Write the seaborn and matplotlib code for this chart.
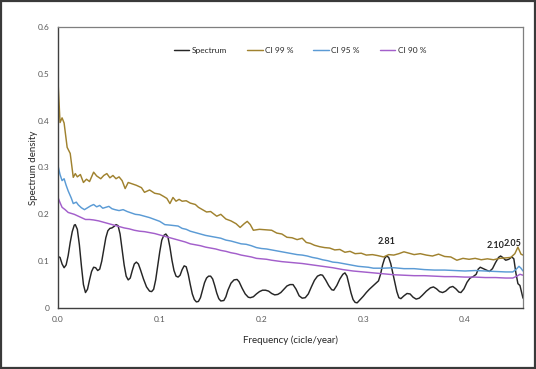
import matplotlib
matplotlib.use("Agg")
import matplotlib.pyplot as plt
import seaborn as sns
import numpy as np
from matplotlib.patches import Rectangle

# ---------------- data ----------------
spec_x = [0.000, 0.002, 0.004, 0.006, 0.008, 0.010, 0.012, 0.014, 0.016, 0.017, 0.019, 0.021, 0.023, 0.025, 0.027,
          0.029, 0.031, 0.033, 0.035, 0.037, 0.039, 0.041, 0.043, 0.045, 0.047, 0.049, 0.051, 0.053, 0.055, 0.057,
          0.059, 0.061, 0.063, 0.065, 0.067, 0.069, 0.071, 0.073, 0.075, 0.077, 0.079, 0.081, 0.084, 0.087, 0.090,
          0.092, 0.094, 0.096, 0.098, 0.100, 0.102, 0.104, 0.106, 0.108, 0.110, 0.112, 0.114, 0.116, 0.118, 0.120,
          0.122, 0.124, 0.126, 0.128, 0.130, 0.132, 0.134, 0.136, 0.138, 0.140, 0.142, 0.144, 0.146, 0.148, 0.150,
          0.152, 0.154, 0.156, 0.158, 0.160, 0.163, 0.165, 0.167, 0.170, 0.173, 0.176, 0.178, 0.181, 0.184, 0.187,
          0.189, 0.192, 0.195, 0.198, 0.201, 0.204, 0.207, 0.210, 0.213, 0.216, 0.219, 0.222, 0.225, 0.228, 0.231,
          0.234, 0.237, 0.240, 0.243, 0.246, 0.249, 0.252, 0.255, 0.258, 0.260, 0.263, 0.266, 0.269, 0.271, 0.274,
          0.277, 0.280, 0.282, 0.284, 0.286, 0.288, 0.290, 0.292, 0.294, 0.297, 0.300, 0.303, 0.306, 0.309, 0.312,
          0.315, 0.317, 0.319, 0.321, 0.323, 0.325, 0.327, 0.329, 0.331, 0.333, 0.335, 0.337, 0.340, 0.343, 0.346,
          0.349, 0.352, 0.355, 0.358, 0.362, 0.366, 0.369, 0.372, 0.375, 0.378, 0.381, 0.385, 0.388, 0.391, 0.394,
          0.396, 0.399, 0.402, 0.405, 0.408, 0.411, 0.413, 0.415, 0.418, 0.421, 0.424, 0.427, 0.430, 0.433, 0.435,
          0.437, 0.440, 0.443, 0.446, 0.448, 0.450, 0.452, 0.454, 0.456, 0.457]
spec_y = [0.110, 0.108, 0.094, 0.086, 0.092, 0.112, 0.140, 0.163, 0.177, 0.178, 0.168, 0.135, 0.090, 0.050, 0.033,
          0.040, 0.060, 0.078, 0.087, 0.086, 0.080, 0.083, 0.100, 0.125, 0.150, 0.165, 0.170, 0.171, 0.174, 0.178,
          0.176, 0.158, 0.125, 0.092, 0.068, 0.060, 0.064, 0.080, 0.094, 0.098, 0.094, 0.082, 0.062, 0.045, 0.036,
          0.035, 0.040, 0.060, 0.090, 0.120, 0.145, 0.155, 0.158, 0.152, 0.130, 0.102, 0.080, 0.068, 0.066, 0.070,
          0.082, 0.090, 0.088, 0.072, 0.050, 0.030, 0.018, 0.013, 0.014, 0.022, 0.038, 0.054, 0.064, 0.068, 0.068,
          0.062, 0.048, 0.032, 0.020, 0.015, 0.016, 0.024, 0.038, 0.053, 0.060, 0.061, 0.056, 0.042, 0.030, 0.023,
          0.022, 0.024, 0.030, 0.035, 0.038, 0.038, 0.036, 0.031, 0.028, 0.029, 0.033, 0.040, 0.047, 0.050, 0.050,
          0.040, 0.026, 0.021, 0.022, 0.030, 0.045, 0.059, 0.068, 0.071, 0.070, 0.060, 0.048, 0.039, 0.038, 0.048,
          0.062, 0.072, 0.075, 0.068, 0.050, 0.032, 0.018, 0.012, 0.011, 0.018, 0.025, 0.033, 0.040, 0.046, 0.052,
          0.058, 0.072, 0.092, 0.106, 0.111, 0.108, 0.095, 0.075, 0.055, 0.035, 0.022, 0.020, 0.026, 0.031, 0.030,
          0.023, 0.019, 0.021, 0.027, 0.036, 0.043, 0.045, 0.041, 0.035, 0.033, 0.036, 0.044, 0.046, 0.041, 0.034,
          0.033, 0.041, 0.055, 0.064, 0.067, 0.072, 0.083, 0.087, 0.084, 0.081, 0.078, 0.084, 0.097, 0.108, 0.111,
          0.108, 0.102, 0.104, 0.109, 0.105, 0.075, 0.052, 0.048, 0.030, 0.021]

ci99_x = [0.000, 0.002, 0.004, 0.006, 0.009, 0.012, 0.015, 0.017, 0.019, 0.022, 0.025, 0.028, 0.031, 0.035, 0.038,
          0.042, 0.045, 0.048, 0.051, 0.054, 0.057, 0.060, 0.063, 0.066, 0.069, 0.073, 0.077, 0.082, 0.085, 0.090,
          0.095, 0.100, 0.104, 0.107, 0.110, 0.113, 0.116, 0.119, 0.122, 0.126, 0.130, 0.135, 0.138, 0.142, 0.146,
          0.150, 0.156, 0.160, 0.165, 0.170, 0.175, 0.179, 0.183, 0.186, 0.189, 0.192, 0.198, 0.204, 0.210, 0.215,
          0.220, 0.225, 0.230, 0.235, 0.240, 0.244, 0.248, 0.252, 0.257, 0.262, 0.267, 0.272, 0.277, 0.282, 0.287,
          0.292, 0.298, 0.303, 0.309, 0.314, 0.320, 0.325, 0.330, 0.335, 0.340, 0.345, 0.350, 0.356, 0.362, 0.368,
          0.374, 0.380, 0.386, 0.392, 0.398, 0.404, 0.410, 0.416, 0.422, 0.428, 0.434, 0.440, 0.445, 0.449, 0.452,
          0.455, 0.457]
ci99_y = [0.485, 0.396, 0.406, 0.395, 0.343, 0.330, 0.279, 0.287, 0.280, 0.285, 0.268, 0.275, 0.270, 0.290, 0.282,
          0.276, 0.283, 0.287, 0.278, 0.283, 0.276, 0.280, 0.272, 0.255, 0.268, 0.265, 0.262, 0.257, 0.247, 0.252,
          0.245, 0.243, 0.238, 0.234, 0.223, 0.236, 0.228, 0.232, 0.228, 0.229, 0.224, 0.221, 0.215, 0.210, 0.205,
          0.206, 0.196, 0.200, 0.190, 0.186, 0.180, 0.172, 0.180, 0.185, 0.178, 0.166, 0.168, 0.167, 0.166, 0.160,
          0.158, 0.151, 0.150, 0.146, 0.149, 0.140, 0.138, 0.134, 0.131, 0.129, 0.128, 0.124, 0.125, 0.119, 0.121,
          0.116, 0.117, 0.113, 0.114, 0.112, 0.109, 0.114, 0.113, 0.116, 0.120, 0.117, 0.114, 0.116, 0.113, 0.111,
          0.115, 0.110, 0.109, 0.102, 0.106, 0.104, 0.106, 0.103, 0.105, 0.103, 0.106, 0.107, 0.108, 0.116, 0.130,
          0.115, 0.113]

ci95_x = [0.000, 0.002, 0.004, 0.006, 0.008, 0.010, 0.013, 0.015, 0.018, 0.020, 0.023, 0.026, 0.029, 0.032, 0.035,
          0.038, 0.041, 0.044, 0.047, 0.050, 0.053, 0.056, 0.060, 0.064, 0.068, 0.072, 0.076, 0.080, 0.085, 0.090,
          0.095, 0.100, 0.105, 0.110, 0.114, 0.118, 0.122, 0.126, 0.130, 0.135, 0.140, 0.145, 0.150, 0.155, 0.160,
          0.165, 0.170, 0.175, 0.180, 0.185, 0.190, 0.195, 0.200, 0.205, 0.210, 0.215, 0.220, 0.225, 0.230, 0.235,
          0.240, 0.245, 0.250, 0.255, 0.260, 0.265, 0.270, 0.275, 0.280, 0.285, 0.290, 0.295, 0.300, 0.305, 0.310,
          0.320, 0.330, 0.340, 0.350, 0.360, 0.370, 0.380, 0.390, 0.400, 0.410, 0.420, 0.430, 0.440, 0.447, 0.450,
          0.453, 0.455, 0.457]
ci95_y = [0.304, 0.285, 0.272, 0.276, 0.262, 0.250, 0.235, 0.223, 0.226, 0.220, 0.214, 0.210, 0.214, 0.218, 0.221,
          0.216, 0.219, 0.213, 0.215, 0.217, 0.212, 0.210, 0.208, 0.210, 0.206, 0.203, 0.200, 0.199, 0.196, 0.193,
          0.189, 0.185, 0.178, 0.177, 0.176, 0.175, 0.170, 0.168, 0.164, 0.161, 0.158, 0.155, 0.153, 0.151, 0.149,
          0.145, 0.143, 0.140, 0.137, 0.136, 0.133, 0.129, 0.127, 0.126, 0.124, 0.122, 0.120, 0.118, 0.116, 0.114,
          0.113, 0.111, 0.108, 0.106, 0.103, 0.101, 0.098, 0.097, 0.095, 0.093, 0.091, 0.089, 0.088, 0.087, 0.085,
          0.085, 0.086, 0.084, 0.084, 0.082, 0.081, 0.081, 0.080, 0.079, 0.080, 0.079, 0.078, 0.077, 0.077, 0.082,
          0.089, 0.085, 0.079]

ci90_x = [0.000, 0.002, 0.004, 0.007, 0.010, 0.013, 0.016, 0.020, 0.024, 0.027, 0.031, 0.035, 0.040, 0.045, 0.050,
          0.055, 0.060, 0.065, 0.070, 0.075, 0.080, 0.085, 0.090, 0.095, 0.100, 0.105, 0.110, 0.115, 0.120, 0.125,
          0.130, 0.135, 0.140, 0.145, 0.150, 0.155, 0.160, 0.165, 0.170, 0.175, 0.180, 0.185, 0.190, 0.195, 0.200,
          0.205, 0.210, 0.220, 0.230, 0.240, 0.250, 0.260, 0.270, 0.280, 0.290, 0.300, 0.310, 0.320, 0.330, 0.340,
          0.350, 0.360, 0.370, 0.380, 0.390, 0.400, 0.410, 0.420, 0.430, 0.440, 0.447, 0.451, 0.454, 0.457]
ci90_y = [0.236, 0.225, 0.215, 0.210, 0.204, 0.202, 0.200, 0.196, 0.192, 0.189, 0.189, 0.188, 0.186, 0.183, 0.180,
          0.177, 0.174, 0.171, 0.169, 0.166, 0.164, 0.163, 0.161, 0.159, 0.156, 0.153, 0.150, 0.147, 0.144, 0.141,
          0.137, 0.135, 0.133, 0.130, 0.128, 0.126, 0.123, 0.121, 0.118, 0.116, 0.113, 0.111, 0.109, 0.106, 0.105,
          0.104, 0.102, 0.099, 0.097, 0.095, 0.092, 0.089, 0.086, 0.082, 0.079, 0.077, 0.075, 0.073, 0.071, 0.070,
          0.069, 0.069, 0.068, 0.067, 0.067, 0.066, 0.066, 0.065, 0.065, 0.064, 0.064, 0.068, 0.072, 0.070]

series_names = ["Spectrum", "CI 99 %", "CI 95 %", "CI 90 %"]
series_colors = ["#262626", "#A0822F", "#5B9BD5", "#A35FCB"]

peak_labels = ["2.81", "2.10", "2.05"]
peak_x = [0.323, 0.435, 0.446]
peak_y = [0.111, 0.111, 0.109]

x_ticks = [0.0, 0.1, 0.2, 0.3, 0.4]
x_ticklabels = ["0.0", "0.1", "0.2", "0.3", "0.4"]
y_ticks = [0, 0.1, 0.2, 0.3, 0.4, 0.5, 0.6]
y_ticklabels = ["0", "0.1", "0.2", "0.3", "0.4", "0.5", "0.6"]

# ---------------- plot ----------------
sns.set_theme(style="white")
plt.rcParams["font.family"] = ["Lato", "DejaVu Sans"]

fig = plt.figure(figsize=(5.36, 3.69), dpi=100)
ax = fig.add_axes([58 / 536, 1 - 308 / 369, (523 - 58) / 536, (308 - 27) / 369])

xs = [spec_x, ci99_x, ci95_x, ci90_x]
ys = [spec_y, ci99_y, ci95_y, ci90_y]
for x, y, name, col in zip(xs, ys, series_names, series_colors):
    sns.lineplot(x=x, y=y, ax=ax, color=col, lw=1.05, label=name, sort=False, estimator=None)

offsets = [(0, 7), (-3.5, 4), (0.5, 6.5)]
for lab, px, py, off in zip(peak_labels, peak_x, peak_y, offsets):
    ax.annotate(lab, xy=(px, py), xytext=off, textcoords="offset points",
                ha="center", va="bottom", fontsize=6.5, fontweight="bold", color="#262626")

ax.set_xlim(0, 0.457)
ax.set_ylim(0, 0.6)
ax.set_xticks(x_ticks)
ax.set_xticklabels(x_ticklabels)
ax.set_yticks(y_ticks)
ax.set_yticklabels(y_ticklabels)
ax.tick_params(axis="x", direction="in", length=3, width=0.8, color="#404040", labelsize=6, pad=6, labelcolor="#595959")
ax.tick_params(axis="y", direction="out", length=3, width=0.8, color="#404040", labelsize=6, pad=3, labelcolor="#595959")

for side in ["left", "bottom"]:
    ax.spines[side].set_color("#404040")
    ax.spines[side].set_linewidth(1.0)
for side in ["top", "right"]:
    ax.spines[side].set_color("#7f7f7f")
    ax.spines[side].set_linewidth(0.9)

ax.set_xlabel("Frequency (cicle/year)", fontsize=7, color="#262626", labelpad=9)
ax.set_ylabel("Spectrum density", fontsize=7, color="#262626", labelpad=0)

leg = ax.legend(loc="center", bbox_to_anchor=(0.52, 0.918), ncol=4, frameon=False,
                fontsize=6, handlelength=1.9, columnspacing=2.4, handletextpad=0.25,
                labelcolor="#262626")

fig.patches.append(Rectangle((0.002, 0.003), 0.996, 0.994, transform=fig.transFigure,
                             fill=False, edgecolor="#3a3a3a", linewidth=1.6))

fig.savefig("out.png", dpi=100, facecolor="white")
